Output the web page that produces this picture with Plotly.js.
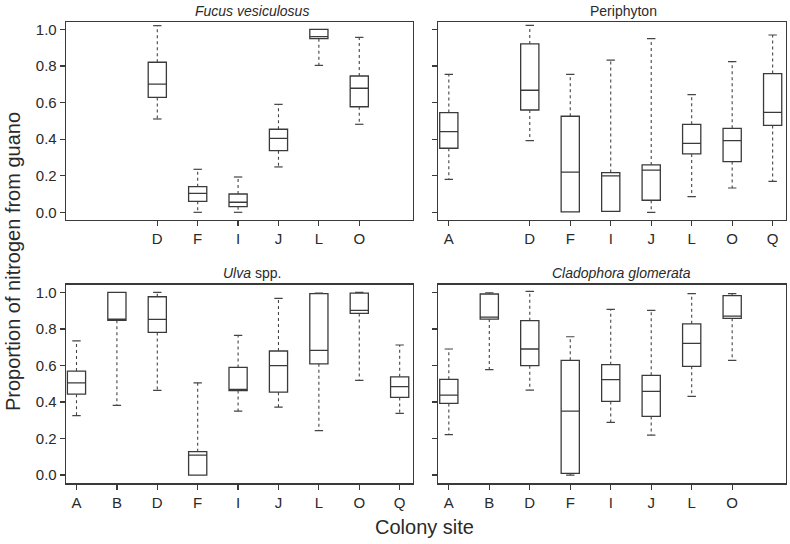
<!DOCTYPE html>
<html>
<head>
<meta charset="utf-8">
<script src="https://cdn.plot.ly/plotly-3.0.1.min.js"></script>
<style>
html,body{margin:0;padding:0;background:#fff;}
#chart{width:790px;height:544px;}
</style>
</head>
<body>
<div id="chart"></div>
<script>
// All colony sites (shared category order)
const sites = ['A','B','D','F','I','J','L','O','Q'];

// Fucus vesiculosus
const fucusSites = ['D','F','I','J','L','O'];
const fucusMin   = [0.51, 0.00, 0.00, 0.248, 0.803, 0.481];
const fucusQ1    = [0.628, 0.06, 0.031, 0.337, 0.949, 0.577];
const fucusMed   = [0.70, 0.104, 0.055, 0.404, 0.96, 0.678];
const fucusQ3    = [0.82, 0.14, 0.10, 0.454, 1.0, 0.745];
const fucusMax   = [1.02, 0.235, 0.193, 0.59, 1.0, 0.956];

// Periphyton
const periSites = ['A','D','F','I','J','L','O','Q'];
const periMin   = [0.18, 0.392, 0.002, 0.005, 0.0, 0.086, 0.133, 0.169];
const periQ1    = [0.35, 0.559, 0.002, 0.005, 0.066, 0.319, 0.277, 0.475];
const periMed   = [0.441, 0.667, 0.22, 0.199, 0.231, 0.377, 0.392, 0.546];
const periQ3    = [0.545, 0.92, 0.525, 0.217, 0.259, 0.481, 0.459, 0.758];
const periMax   = [0.754, 1.022, 0.754, 0.832, 0.949, 0.643, 0.823, 0.969];

// Ulva spp.
const ulvaSites = ['A','B','D','F','I','J','L','O','Q'];
const ulvaMin   = [0.325, 0.381, 0.464, 0.0, 0.35, 0.372, 0.243, 0.518, 0.338];
const ulvaQ1    = [0.443, 0.847, 0.781, 0.0, 0.463, 0.454, 0.609, 0.885, 0.425];
const ulvaMed   = [0.505, 0.854, 0.852, 0.109, 0.466, 0.599, 0.682, 0.901, 0.484];
const ulvaQ3    = [0.569, 1.0, 0.976, 0.128, 0.589, 0.679, 0.993, 0.996, 0.538];
const ulvaMax   = [0.734, 1.0, 1.0, 0.505, 0.765, 0.967, 0.996, 1.0, 0.712];

// Cladophora glomerata
const cladSites = ['A','B','D','F','I','J','L','O'];
const cladMin   = [0.221, 0.577, 0.465, 0.0, 0.288, 0.219, 0.431, 0.628];
const cladQ1    = [0.392, 0.854, 0.599, 0.009, 0.403, 0.321, 0.595, 0.858];
const cladMed   = [0.438, 0.865, 0.69, 0.35, 0.522, 0.458, 0.721, 0.87];
const cladQ3    = [0.524, 0.991, 0.845, 0.628, 0.604, 0.546, 0.828, 0.982];
const cladMax   = [0.69, 0.998, 1.005, 0.757, 0.907, 0.901, 0.993, 0.993];

const yTicks = [0, 0.2, 0.4, 0.6, 0.8, 1.0];
const yTickText = ['0.0','0.2','0.4','0.6','0.8','1.0'];

const lineCol = '#3a3a3a';
const textCol = '#2a2a2a';
const FONT = 'Liberation Sans, Arial, sans-serif';

function panel(xa, ya, s, mn, q1, md, q3, mx) {
  const box = {
    type: 'box', xaxis: xa, yaxis: ya,
    x: s, q1: q1, median: md, q3: q3, lowerfence: q1, upperfence: q3,
    width: 0.45, whiskerwidth: 0,
    fillcolor: 'rgba(255,255,255,1)',
    line: {color: lineCol, width: 1.3},
    boxpoints: false, hoverinfo: 'skip', showlegend: false
  };
  const wx = [], wy = [];
  for (let i = 0; i < s.length; i++) {
    if (mx[i] > q3[i]) { wx.push(s[i], s[i], null); wy.push(q3[i], mx[i], null); }
    if (mn[i] < q1[i]) { wx.push(s[i], s[i], null); wy.push(q1[i], mn[i], null); }
  }
  const whisk = {
    type: 'scatter', mode: 'lines', xaxis: xa, yaxis: ya,
    x: wx, y: wy, connectgaps: false,
    line: {color: '#444', width: 1.1, dash: 'dot'},
    hoverinfo: 'skip', showlegend: false
  };
  const cx = [], cy = [];
  for (let i = 0; i < s.length; i++) {
    if (mx[i] > q3[i]) { cx.push(s[i]); cy.push(mx[i]); }
    if (mn[i] < q1[i]) { cx.push(s[i]); cy.push(mn[i]); }
  }
  const caps = {
    type: 'scatter', mode: 'markers', xaxis: xa, yaxis: ya,
    x: cx, y: cy,
    marker: {symbol: 'line-ew', size: 6, line: {color: '#444', width: 1.2}},
    hoverinfo: 'skip', showlegend: false
  };
  return [whisk, caps, box];
}

const data = [].concat(
  panel('x', 'y', fucusSites, fucusMin, fucusQ1, fucusMed, fucusQ3, fucusMax),
  panel('x2', 'y2', periSites, periMin, periQ1, periMed, periQ3, periMax),
  panel('x3', 'y3', ulvaSites, ulvaMin, ulvaQ1, ulvaMed, ulvaQ3, ulvaMax),
  panel('x4', 'y4', cladSites, cladMin, cladQ1, cladMed, cladQ3, cladMax)
);

const W = 790, H = 544;
const px = v => v / W;
const py = v => (H - v) / H;

function xax(domain, anchor, present) {
  return {
    domain: domain, anchor: anchor, type: 'category',
    categoryorder: 'array', categoryarray: sites,
    range: [-0.26, 8.33],
    tickmode: 'array', tickvals: present, ticktext: present,
    ticks: 'outside', ticklen: 5, tickwidth: 1.2, tickcolor: lineCol,
    showline: true, mirror: true, linecolor: lineCol, linewidth: 1.3,
    showgrid: false, zeroline: false,
    tickfont: {family: FONT, size: 15, color: textCol}
  };
}
function yax(domain, anchor, range, labels) {
  return {
    domain: domain, anchor: anchor, range: range,
    tickmode: 'array', tickvals: yTicks, ticktext: yTickText,
    showticklabels: labels,
    ticks: 'outside', ticklen: 5, tickwidth: 1.2, tickcolor: lineCol,
    showline: true, mirror: true, linecolor: lineCol, linewidth: 1.3,
    showgrid: false, zeroline: false,
    tickfont: {family: FONT, size: 15, color: textCol}
  };
}

const xL = [px(66), px(413)];
const xR = [px(438.3), px(786)];
const yT = [py(220), py(22)];
const yB = [py(483.3), py(284.7)];

const layout = {
  width: W, height: H,
  margin: {l: 0, r: 0, t: 0, b: 0},
  paper_bgcolor: '#fff', plot_bgcolor: '#fff',
  showlegend: false,
  font: {family: FONT, color: textCol},
  xaxis: xax(xL, 'y', fucusSites),
  yaxis: yax(yT, 'x', [-0.042, 1.040], true),
  xaxis2: xax(xR, 'y2', periSites),
  yaxis2: yax(yT, 'x2', [-0.042, 1.040], false),
  xaxis3: xax(xL, 'y3', ulvaSites),
  yaxis3: yax(yB, 'x3', [-0.045, 1.042], true),
  xaxis4: xax(xR, 'y4', cladSites),
  yaxis4: yax(yB, 'x4', [-0.045, 1.042], false),
  annotations: [
    {text: '<i>Fucus vesiculosus</i>', x: px(252), y: py(11), xref: 'paper', yref: 'paper',
     xanchor: 'center', yanchor: 'middle', showarrow: false, font: {family: FONT, size: 14, color: textCol}},
    {text: 'Periphyton', x: px(623), y: py(11), xref: 'paper', yref: 'paper',
     xanchor: 'center', yanchor: 'middle', showarrow: false, font: {family: FONT, size: 14, color: textCol}},
    {text: '<i>Ulva</i> spp.', x: px(252), y: py(273), xref: 'paper', yref: 'paper',
     xanchor: 'center', yanchor: 'middle', showarrow: false, font: {family: FONT, size: 14, color: textCol}},
    {text: '<i>Cladophora glomerata</i>', x: px(621), y: py(273), xref: 'paper', yref: 'paper',
     xanchor: 'center', yanchor: 'middle', showarrow: false, font: {family: FONT, size: 14, color: textCol}},
    {text: 'Proportion of nitrogen from guano', x: px(13), y: py(262), xref: 'paper', yref: 'paper',
     xanchor: 'center', yanchor: 'middle', textangle: -90, showarrow: false, font: {family: FONT, size: 20, color: textCol}},
    {text: 'Colony site', x: px(424), y: py(527), xref: 'paper', yref: 'paper',
     xanchor: 'center', yanchor: 'middle', showarrow: false, font: {family: FONT, size: 20, color: textCol}}
  ]
};

Plotly.newPlot('chart', data, layout, {staticPlot: true, displayModeBar: false});
</script>
</body>
</html>
